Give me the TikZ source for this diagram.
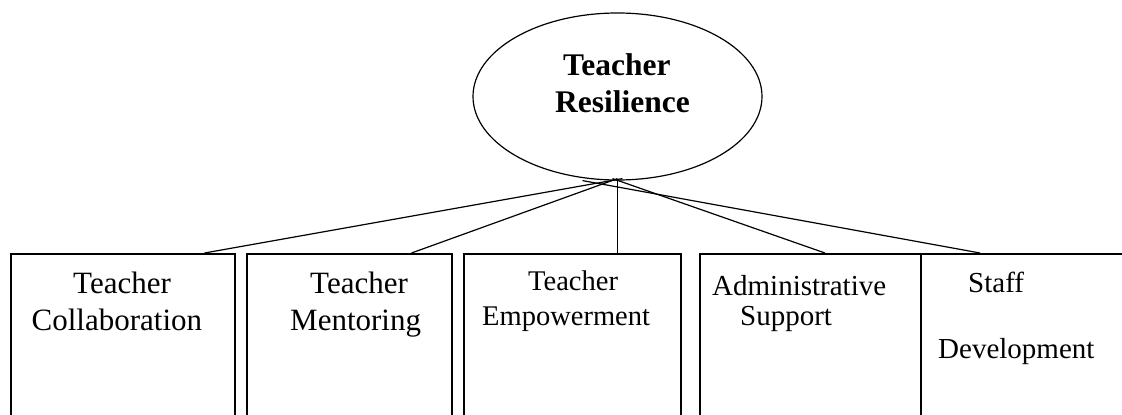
\documentclass[tikz,border=0pt]{standalone}
\usepackage{fontspec}
\setmainfont{Liberation Serif}
\usetikzlibrary{shapes.geometric}
\tikzset{
  boxnode/.style={draw, line width=1.5pt, anchor=north west, minimum height=200pt, inner sep=0pt},
  bigtxt/.style={inner sep=0pt, anchor=base west, font=\fontsize{31}{37}\selectfont},
  midtxt/.style={inner sep=0pt, anchor=base west, font=\fontsize{28.5}{35}\selectfont},
  smalltxt/.style={inner sep=0pt, anchor=base west, font=\fontsize{29}{35}\selectfont},
  headtxt/.style={inner sep=0pt, anchor=base west, font=\fontsize{31.5}{37}\selectfont\bfseries},
  conn/.style={line width=1.2pt}
}
\begin{document}
\begin{tikzpicture}[x=1pt,y=-1pt]
\useasboundingbox (0,0) rectangle (1122,415);
\clip (0,0) rectangle (1122,415);
% central ellipse
\node[draw, ellipse, line width=1.2pt, minimum width=289pt, minimum height=167pt, inner sep=0pt] (tr) at (617.5,96.5) {};
\node[headtxt] (trA) at (563,75) {Teacher};
\node[headtxt] (trB) at (555,112) {Resilience};
% boxes
\node[boxnode, minimum width=224pt] (b1) at (10,253) {};
\node[boxnode, minimum width=205pt] (b2) at (246,253) {};
\node[boxnode, minimum width=217pt] (b3) at (463,253) {};
\node[boxnode, minimum width=221pt] (b4) at (699,253) {};
\node[boxnode, minimum width=230pt] (b5) at (920,253) {};
% texts
\node[bigtxt] (t1a) at (73,293) {Teacher};
\node[bigtxt] (t1b) at (31.5,330.5) {Collaboration};
\node[bigtxt] (t2a) at (310,293) {Teacher};
\node[bigtxt] (t2b) at (290,330) {Mentoring};
\node[midtxt] (t3a) at (528,290) {Teacher};
\node[midtxt] (t3b) at (482,325) {Empowerment};
\node[smalltxt] (t4a) at (712,295) {Administrative};
\node[smalltxt] (t4b) at (740,325) {Support};
\node[smalltxt] (t5a) at (968,292) {Staff};
\node[smalltxt] (t5b) at (938,358) {Development};
% connectors
\draw[conn] ([xshift=5pt,yshift=2pt]tr.south) -- ([xshift=-31pt]b1.north east);
\draw[conn] ([yshift=2pt]tr.south) -- ([xshift=-41pt]b2.north east);
\draw[conn] ([yshift=2pt]tr.south) -- (tr.south |- b3.north);
\draw[conn] ([xshift=-5pt,yshift=2pt]tr.south) -- ([xshift=126pt]b4.north west);
\draw[conn] ([xshift=-35pt,yshift=0pt]tr.south) -- ([xshift=60pt]b5.north west);
\end{tikzpicture}
\end{document}
